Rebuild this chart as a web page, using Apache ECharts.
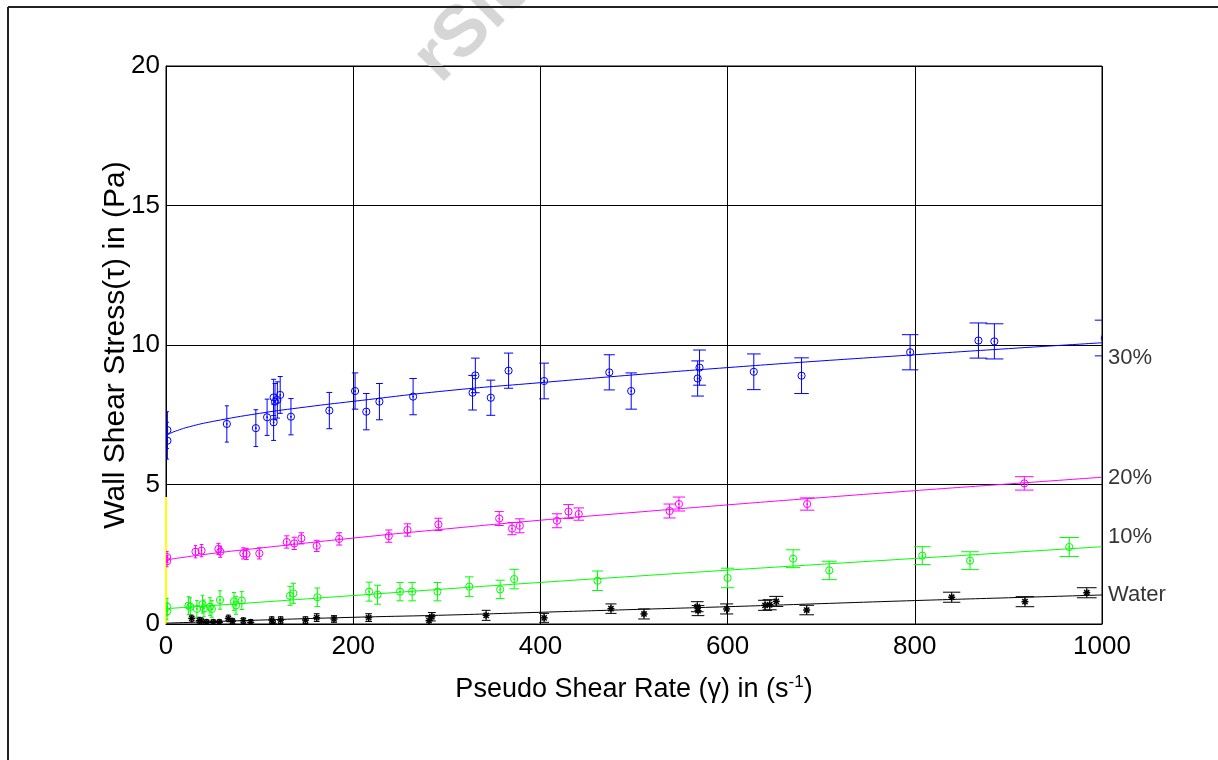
<!DOCTYPE html>
<html>
<head>
<meta charset="utf-8">
<script src="https://cdn.jsdelivr.net/npm/echarts@6/dist/echarts.min.js"></script>
<style>
html,body{margin:0;padding:0;background:#fff;}
#chart{width:1218px;height:760px;}
</style>
</head>
<body>
<div id="chart"></div>
<script>
// ---------- data ----------
const xTicks = [0, 200, 400, 600, 800, 1000];
const yTicks = [0, 5, 10, 15, 20];

// 30% suspension (blue)
const c30X = [1.5, 1.5, 65, 96, 108, 115, 115, 116.5, 119, 122, 133.5, 174.5, 202, 214, 228, 264, 327.5, 330.5, 347, 366, 404, 473.6, 497, 568, 570, 628, 679, 795, 868, 885, 1003];
const c30Y = [6.95, 6.57, 7.17, 7.02, 7.41, 7.23, 8.12, 7.97, 8.03, 8.21, 7.43, 7.65, 8.35, 7.61, 7.97, 8.15, 8.29, 8.91, 8.11, 9.08, 8.71, 9.02, 8.35, 8.8, 9.19, 9.04, 8.9, 9.74, 10.16, 10.13, 10.25];
const c30E = [0.66, 0.66, 0.65, 0.66, 0.65, 0.65, 0.65, 0.65, 0.65, 0.66, 0.65, 0.65, 0.65, 0.65, 0.65, 0.65, 0.62, 0.62, 0.63, 0.63, 0.64, 0.63, 0.65, 0.63, 0.63, 0.64, 0.64, 0.63, 0.63, 0.63, 0.64];
const fit30X = [0, 5, 10, 25, 50, 100, 150, 200, 300, 400, 500, 600, 700, 800, 900, 1000];
const fit30Y = [6.75, 6.84, 6.91, 7.07, 7.26, 7.55, 7.78, 7.98, 8.36, 8.65, 8.93, 9.19, 9.43, 9.65, 9.87, 10.08];

// 20% suspension (magenta)
const c20X = [1.2, 1.2, 31.5, 38, 56, 58, 82.6, 86, 99.7, 129, 137, 144.6, 161, 185, 238, 258, 291, 356, 369.7, 378, 417.7, 430, 441, 538, 548, 685, 917];
const c20Y = [2.4, 2.25, 2.59, 2.63, 2.69, 2.59, 2.53, 2.51, 2.53, 2.94, 2.89, 3.07, 2.80, 3.05, 3.15, 3.37, 3.57, 3.78, 3.42, 3.52, 3.70, 4.03, 3.94, 4.05, 4.30, 4.30, 5.04];
const c20E = [0.2, 0.2, 0.22, 0.22, 0.2, 0.2, 0.2, 0.2, 0.2, 0.22, 0.22, 0.2, 0.2, 0.22, 0.22, 0.22, 0.22, 0.25, 0.22, 0.25, 0.25, 0.25, 0.22, 0.25, 0.25, 0.22, 0.24];
const fit20X = [0, 50, 100, 200, 300, 400, 500, 600, 700, 800, 900, 1000];
const fit20Y = [2.3, 2.53, 2.72, 3.08, 3.41, 3.72, 4.0, 4.27, 4.53, 4.78, 5.02, 5.26];

// 10% suspension (green)
const c10X = [1.2, 1.2, 24, 26, 33, 39, 40.6, 47, 49, 57.7, 72.6, 74.8, 81, 132.5, 136, 161.7, 217, 226, 250, 263, 290, 324, 357, 372, 461, 600, 670, 708.6, 808, 859, 965];
const c10Y = [0.62, 0.45, 0.66, 0.62, 0.54, 0.71, 0.56, 0.62, 0.54, 0.86, 0.81, 0.67, 0.84, 1.01, 1.10, 0.96, 1.16, 1.05, 1.16, 1.16, 1.16, 1.34, 1.24, 1.61, 1.55, 1.65, 2.34, 1.92, 2.45, 2.27, 2.76];
const c10E = [0.3, 0.3, 0.32, 0.32, 0.3, 0.32, 0.3, 0.32, 0.3, 0.33, 0.32, 0.32, 0.32, 0.34, 0.36, 0.33, 0.34, 0.34, 0.33, 0.33, 0.33, 0.35, 0.33, 0.35, 0.35, 0.35, 0.32, 0.33, 0.32, 0.32, 0.34];
const fit10X = [0, 100, 200, 300, 400, 500, 600, 700, 800, 900, 1000];
const fit10Y = [0.55, 0.78, 1.02, 1.26, 1.49, 1.71, 1.93, 2.14, 2.35, 2.56, 2.77];

// Water (black)
const wX = [27.5, 35.6, 38, 43.5, 50.5, 57, 66.6, 71, 82.6, 90.5, 113, 114.6, 122.5, 149, 161, 179.5, 216.5, 281, 284, 342, 404, 475.4, 510.7, 567.6, 568.4, 599, 640, 645, 652, 684.5, 839.4, 917.7, 983.7];
const wY = [0.2, 0.12, 0.1, 0.06, 0.06, 0.06, 0.2, 0.1, 0.12, 0.06, 0.14, 0.0, 0.14, 0.14, 0.23, 0.18, 0.23, 0.12, 0.26, 0.31, 0.22, 0.55, 0.36, 0.62, 0.48, 0.54, 0.67, 0.69, 0.81, 0.50, 0.96, 0.8, 1.12];
const wE = [0.12, 0.12, 0.12, 0.1, 0.1, 0.1, 0.12, 0.1, 0.1, 0.1, 0.12, 0.12, 0.12, 0.12, 0.14, 0.12, 0.14, 0.14, 0.15, 0.18, 0.16, 0.17, 0.18, 0.18, 0.18, 0.18, 0.18, 0.18, 0.18, 0.17, 0.18, 0.18, 0.18];
const fitWX = [0, 100, 200, 300, 400, 500, 600, 700, 800, 900, 1000];
const fitWY = [0.03, 0.14, 0.24, 0.32, 0.42, 0.52, 0.62, 0.73, 0.84, 0.94, 1.04];

// yellow trace at zero shear rate
const yelX = [0, 0];
const yelY = [0, 4.55];

// right-side series labels
const lblText = ['30%', '20%', '10%', 'Water'];
const lblX = [1000, 1000, 1000, 1000];
const lblY = [9.53, 5.23, 3.12, 1.04];

// ---------- chart ----------
const FONT = "'Liberation Sans', Arial, sans-serif";
const zip = (a, b) => a.map((v, i) => [v, b[i]]);
const zip3 = (a, b, c) => a.map((v, i) => [v, b[i], c[i]]);

function errSeries(name, xs, ys, es, color, marker) {
  return {
    name: name,
    type: 'custom',
    clip: true,
    z: 5,
    data: zip3(xs, ys, es),
    encode: { x: 0, y: 1 },
    renderItem: function (params, api) {
      const x = api.value(0), y = api.value(1), e = api.value(2);
      const p = api.coord([x, y]);
      const hi = api.coord([x, y + e]);
      const lo = api.coord([x, y - e]);
      const hw = 1.5 + 0.0085 * x;
      const ls = { stroke: color, lineWidth: 1, fill: null };
      const ch = [
        { type: 'line', shape: { x1: p[0], y1: hi[1], x2: p[0], y2: lo[1] }, style: ls },
        { type: 'line', shape: { x1: p[0] - hw, y1: hi[1], x2: p[0] + hw, y2: hi[1] }, style: ls },
        { type: 'line', shape: { x1: p[0] - hw, y1: lo[1], x2: p[0] + hw, y2: lo[1] }, style: ls }
      ];
      if (marker === 'circle') {
        ch.push({ type: 'circle', shape: { cx: p[0], cy: p[1], r: 3.6 }, style: { stroke: color, lineWidth: 1, fill: null } });
        ch.push({ type: 'circle', shape: { cx: p[0], cy: p[1], r: 0.9 }, style: { fill: color } });
      } else {
        const s = 3.5, d = 2.6;
        const st = { stroke: color, lineWidth: 1.5 };
        ch.push({ type: 'line', shape: { x1: p[0] - s, y1: p[1], x2: p[0] + s, y2: p[1] }, style: st });
        ch.push({ type: 'line', shape: { x1: p[0], y1: p[1] - s, x2: p[0], y2: p[1] + s }, style: st });
        ch.push({ type: 'line', shape: { x1: p[0] - d, y1: p[1] - d, x2: p[0] + d, y2: p[1] + d }, style: st });
        ch.push({ type: 'line', shape: { x1: p[0] - d, y1: p[1] + d, x2: p[0] + d, y2: p[1] - d }, style: st });
      }
      return { type: 'group', children: ch };
    }
  };
}

function fitSeries(name, xs, ys, color) {
  return {
    name: name, type: 'line', data: zip(xs, ys), symbol: 'none', smooth: true, z: 4,
    lineStyle: { color: color, width: 1 }, silent: true
  };
}

const chart = echarts.init(document.getElementById('chart'), null, { renderer: 'canvas' });
chart.setOption({
  animation: false,
  backgroundColor: '#ffffff',
  grid: { left: 166, top: 66, width: 936, height: 558, show: true, borderColor: '#000', borderWidth: 1, backgroundColor: 'transparent' },
  xAxis: {
    type: 'value', min: xTicks[0], max: xTicks[xTicks.length - 1], interval: 200,
    name: 'Pseudo Shear Rate (γ) in (s{sup|-1})',
    nameLocation: 'middle', nameGap: 50,
    nameTextStyle: {
      fontFamily: FONT, fontSize: 27, color: '#000',
      rich: { sup: { fontFamily: FONT, fontSize: 17, color: '#000', verticalAlign: 'top', padding: [0, 0, 14, 0] } }
    },
    axisLine: { show: true, lineStyle: { color: '#000', width: 1 } },
    axisTick: { show: false },
    axisLabel: { fontFamily: FONT, fontSize: 26, color: '#000', margin: 10, formatter: v => String(v) },
    splitLine: { show: true, lineStyle: { color: '#000', width: 1 } }
  },
  yAxis: {
    type: 'value', min: yTicks[0], max: yTicks[yTicks.length - 1], interval: 5,
    name: 'Wall Shear Stress(τ) in (Pa)',
    nameLocation: 'middle', nameGap: 35, nameRotate: 90, nameMoveOverlap: false,
    nameTextStyle: { fontFamily: FONT, fontSize: 30, color: '#000' },
    axisLine: { show: true, lineStyle: { color: '#000', width: 1 } },
    axisTick: { show: false },
    axisLabel: { fontFamily: FONT, fontSize: 26, color: '#000', margin: 6, formatter: v => String(v) },
    splitLine: { show: true, lineStyle: { color: '#000', width: 1 } }
  },
  graphic: [
    { type: 'line', shape: { x1: 8, y1: 7, x2: 1218, y2: 7 }, style: { stroke: '#222', lineWidth: 2 }, z: 100 },
    { type: 'line', shape: { x1: 8, y1: 7, x2: 8, y2: 760 }, style: { stroke: '#222', lineWidth: 2 }, z: 100 },
    { type: 'text', x: 452, y: 96, rotation: Math.PI / 4, z: 0,
      style: { text: 'rSle', fontFamily: "'Liberation Sans', Arial, sans-serif", fontSize: 72, fontWeight: 'bold', fill: '#d6d6d6', textVerticalAlign: 'bottom' } }
  ],
  series: [
    { name: 'yellow', type: 'line', data: zip(yelX, yelY), symbol: 'none', lineStyle: { color: '#ffff00', width: 2 }, z: 3 },
    fitSeries('fit30', fit30X, fit30Y, '#0000ff'),
    fitSeries('fit20', fit20X, fit20Y, '#ff00ff'),
    fitSeries('fit10', fit10X, fit10Y, '#00ff00'),
    fitSeries('fitW', fitWX, fitWY, '#000000'),
    errSeries('30%', c30X, c30Y, c30E, '#0000ff', 'circle'),
    errSeries('20%', c20X, c20Y, c20E, '#ff00ff', 'circle'),
    errSeries('10%', c10X, c10Y, c10E, '#00ff00', 'circle'),
    errSeries('Water', wX, wY, wE, '#000000', 'star'),
    {
      name: 'labels', type: 'scatter', symbolSize: 0, silent: true,
      data: lblText.map((t, i) => ({ value: [lblX[i], lblY[i]], name: t })),
      label: { show: true, position: 'right', distance: 6, formatter: '{b}', fontFamily: FONT, fontSize: 22, color: '#000' }
    }
  ]
});
</script>
</body>
</html>
